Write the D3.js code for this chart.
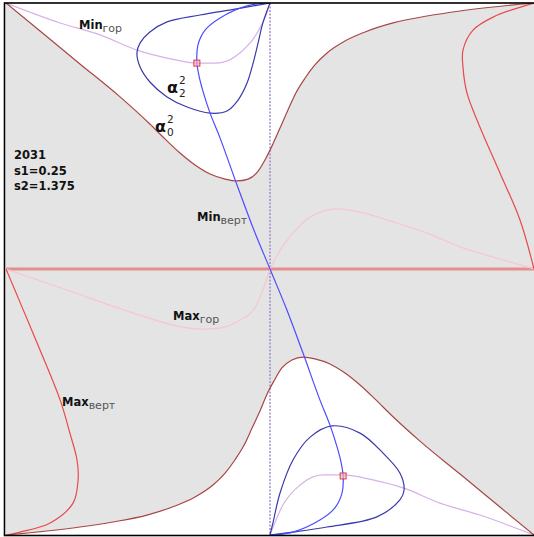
<!DOCTYPE html>
<html>
<head>
<meta charset="utf-8">
<script src="https://cdn.jsdelivr.net/npm/d3@7/dist/d3.min.js"></script>
<style>
  html, body { margin: 0; padding: 0; background: #fff; }
  svg { display: block; }
  text { font-family: "DejaVu Sans", sans-serif; }
</style>
</head>
<body>
<svg id="chart" width="534" height="537"></svg>
<script>
// Boundary curve alpha0^2 (upper and lower branches), [x, y] in unit square coords
const alpha0Upper = [[-1,1],[-0.871,0.895],[-0.72,0.771],[-0.568,0.647],[-0.455,0.545],[-0.398,0.489],
  [-0.341,0.436],[-0.284,0.391],[-0.227,0.357],[-0.17,0.338],[-0.125,0.331],[-0.083,0.338],[-0.045,0.368],
  [-0.015,0.417],[0.011,0.47],[0.038,0.53],[0.068,0.598],[0.098,0.662],[0.133,0.718],[0.17,0.767],
  [0.216,0.812],[0.284,0.857],[0.36,0.891],[0.466,0.925],[0.595,0.951],[0.72,0.97],[0.845,0.985],[1,1]];
const alpha0Lower = [[-1,-1],[-0.845,-0.985],[-0.72,-0.97],[-0.595,-0.951],[-0.466,-0.925],[-0.36,-0.891],
  [-0.284,-0.857],[-0.216,-0.812],[-0.17,-0.767],[-0.133,-0.718],[-0.098,-0.662],[-0.068,-0.598],
  [-0.038,-0.534],[-0.011,-0.47],[0.015,-0.421],[0.045,-0.372],[0.083,-0.342],[0.125,-0.331],[0.17,-0.338],
  [0.227,-0.357],[0.284,-0.391],[0.341,-0.436],[0.398,-0.489],[0.455,-0.545],[0.568,-0.647],[0.72,-0.771],
  [0.871,-0.895],[1,-1]];

// Closed loops alpha2^2
const alpha2Upper = [[0,1],[-0.133,0.977],[-0.265,0.955],[-0.39,0.929],[-0.455,0.891],[-0.492,0.85],
  [-0.504,0.812],[-0.492,0.759],[-0.455,0.703],[-0.39,0.647],[-0.314,0.609],[-0.227,0.586],[-0.163,0.594],
  [-0.121,0.635],[-0.087,0.699],[-0.064,0.774],[-0.045,0.85],[-0.027,0.925],[0,1]];
const alpha2Lower = [[0,-1],[0.011,-0.955],[0.038,-0.842],[0.087,-0.718],[0.152,-0.632],[0.235,-0.59],
  [0.341,-0.617],[0.428,-0.692],[0.492,-0.767],[0.508,-0.831],[0.492,-0.868],[0.405,-0.932],[0.216,-0.97],
  [0.087,-0.989],[0,-1]];

// Min (vertical) curve
const minVert = [[0,1],[-0.087,0.989],[-0.189,0.944],[-0.246,0.898],[-0.273,0.842],[-0.277,0.778],
  [-0.269,0.726],[-0.254,0.669],[-0.227,0.586],[-0.189,0.492],[-0.125,0.316],[-0.064,0.154],[0,0],
  [0.064,-0.154],[0.125,-0.316],[0.189,-0.492],[0.227,-0.586],[0.254,-0.669],[0.269,-0.726],[0.277,-0.778],
  [0.273,-0.842],[0.246,-0.898],[0.189,-0.944],[0.087,-0.989],[0,-1]];

// Min (horizontal) curves
const minHorUpper = [[-1,1],[-0.795,0.925],[-0.644,0.88],[-0.504,0.823],[-0.39,0.793],[-0.277,0.774],
  [-0.201,0.774],[-0.114,0.812],[-0.049,0.887],[-0.015,0.955],[0,1]];
const minHorLower = [[0,-1],[0.049,-0.887],[0.114,-0.812],[0.201,-0.774],[0.277,-0.774],[0.39,-0.793],
  [0.504,-0.823],[0.644,-0.88],[0.795,-0.925],[1,-1]];

// Max (horizontal) curves
const maxHorLeft = [[-1,0],[-0.769,-0.079],[-0.519,-0.165],[-0.367,-0.211],[-0.265,-0.226],[-0.189,-0.222],
  [-0.114,-0.192],[-0.057,-0.147],[-0.027,-0.079],[0,0]];
const maxHorRight = [[0,0],[0.038,0.071],[0.087,0.135],[0.152,0.195],[0.254,0.226],[0.341,0.214],
  [0.466,0.177],[0.595,0.135],[0.72,0.083],[0.845,0.045],[1,0]];

// Max (vertical) curves
const maxVertLeft = [[-1,0],[-0.898,-0.241],[-0.795,-0.492],[-0.758,-0.617],[-0.731,-0.718],[-0.727,-0.793],
  [-0.746,-0.88],[-0.833,-0.955],[-0.947,-0.989],[-1,-1]];
const maxVertRight = [[1,1],[0.845,0.947],[0.769,0.898],[0.731,0.823],[0.731,0.759],[0.746,0.662],
  [0.795,0.534],[0.871,0.361],[0.947,0.184],[1,0]];

// Intersection markers
const markers = [[-0.277,0.774],[0.277,-0.778]];

// Info block
const infoLines = ["2031", "s1=0.25", "s2=1.375"];

const svg = d3.select("#chart");
const x = d3.scaleLinear().domain([-1, 1]).range([6, 534]);
const y = d3.scaleLinear().domain([-1, 1]).range([535, 3]);

const smooth = d3.line().x(d => x(d[0])).y(d => y(d[1])).curve(d3.curveCatmullRom.alpha(0.5));
const monoX = d3.line().x(d => x(d[0])).y(d => y(d[1])).curve(d3.curveMonotoneX);

svg.append("clipPath").attr("id", "frame")
  .append("rect").attr("x", x(-1)).attr("y", y(1)).attr("width", x(1) - x(-1)).attr("height", y(-1) - y(1));

const g = svg.append("g").attr("clip-path", "url(#frame)");

// gray background
g.append("rect").attr("x", x(-1)).attr("y", y(1)).attr("width", x(1) - x(-1)).attr("height", y(-1) - y(1))
  .attr("fill", "#e4e4e4");

// white regions outside the alpha0 boundary
function regionPath(curve, edgeY) {
  return monoX(curve) + "L" + x(1) + "," + y(edgeY) + "L" + x(-1) + "," + y(edgeY) + "Z";
}
g.append("path").attr("d", regionPath(alpha0Upper, 1.05)).attr("fill", "#fff");
g.append("path").attr("d", regionPath(alpha0Lower, -1.05)).attr("fill", "#fff");

// axes through the centre
g.append("line").attr("x1", x(-1)).attr("x2", x(1)).attr("y1", y(0)).attr("y2", y(0))
  .attr("stroke", "#e58e8e").attr("stroke-width", 3);
g.append("line").attr("x1", x(0)).attr("x2", x(0)).attr("y1", y(1)).attr("y2", y(-1))
  .attr("stroke", "#a48ccc").attr("stroke-width", 1.5).attr("stroke-dasharray", "2,1.5");

function curvePath(gen, data, color, width) {
  g.append("path").attr("d", gen(data)).attr("fill", "none")
    .attr("stroke", color).attr("stroke-width", width || 1.2);
}

curvePath(monoX, maxHorLeft, "#f7c6cf");
curvePath(monoX, maxHorRight, "#f7c6cf");
curvePath(monoX, minHorUpper, "#d7b2e6");
curvePath(monoX, minHorLower, "#d7b2e6");
curvePath(smooth, maxVertLeft, "#e84a4a");
curvePath(smooth, maxVertRight, "#e84a4a");
curvePath(monoX, alpha0Upper, "#a84646");
curvePath(monoX, alpha0Lower, "#a84646");
curvePath(smooth, alpha2Upper, "#3a3aac");
curvePath(smooth, alpha2Lower, "#3a3aac");
curvePath(smooth, minVert, "#4c4cff");

// markers
g.selectAll("rect.mk").data(markers).join("rect").attr("class", "mk")
  .attr("x", d => x(d[0]) - 3).attr("y", d => y(d[1]) - 3).attr("width", 6).attr("height", 6)
  .attr("fill", "rgba(240,180,200,0.6)").attr("stroke", "#e03c3c").attr("stroke-width", 1);

// frame
svg.append("rect").attr("x", 4.5).attr("y", 3).attr("width", 532).attr("height", 532.5)
  .attr("fill", "none").attr("stroke", "#000").attr("stroke-width", 1.6);

// labels with subscripts
function subLabel(px, py, main, sub) {
  const t = svg.append("text").attr("x", px).attr("y", py).attr("font-size", 11.5).attr("fill", "#111");
  t.append("tspan").attr("font-weight", "bold").text(main);
  t.append("tspan").attr("dy", 3).attr("font-size", 11).attr("fill", "#555").text(sub);
}
subLabel(79, 29, "Min", "гор");
subLabel(197, 221, "Min", "верт");
subLabel(173, 320, "Max", "гор");
subLabel(62, 406, "Max", "верт");

function alphaLabel(px, py, sup, sub) {
  svg.append("text").attr("x", px).attr("y", py).attr("font-size", 16).attr("font-weight", "bold")
    .attr("fill", "#111").text("α");
  svg.append("text").attr("x", px + 12).attr("y", py - 9).attr("font-size", 10.5).attr("fill", "#222").text(sup);
  svg.append("text").attr("x", px + 12).attr("y", py + 4).attr("font-size", 10.5).attr("fill", "#222").text(sub);
}
alphaLabel(167, 93, "2", "2");
alphaLabel(155, 132, "2", "0");

svg.selectAll("text.info").data(infoLines).join("text").attr("class", "info")
  .attr("x", 14).attr("y", (d, i) => 159 + i * 15.5)
  .attr("font-size", 11.5).attr("font-weight", "bold").attr("fill", "#111").text(d => d);
</script>
</body>
</html>
